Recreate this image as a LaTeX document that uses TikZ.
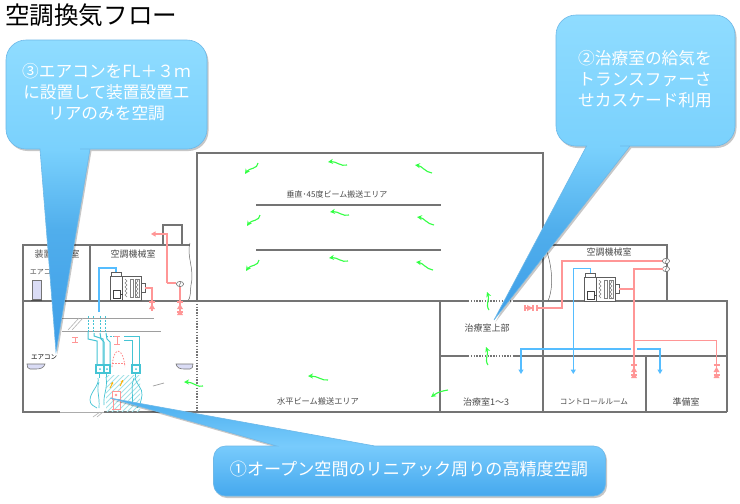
\documentclass[tikz,border=0pt]{standalone}
\usepackage{fontspec}
\setmainfont{Noto Sans CJK JP}
\usetikzlibrary{arrows.meta}
\definecolor{wallc}{HTML}{747474}
\definecolor{pinkc}{HTML}{FF9696}
\definecolor{bluec}{HTML}{55BDFF}
\definecolor{greenc}{HTML}{33FF44}
\definecolor{cyanc}{HTML}{45C4D4}
\definecolor{hatchc}{HTML}{A5E2E8}
\definecolor{lavc}{HTML}{DADCF5}
\definecolor{labelc}{HTML}{4A4A4A}
\definecolor{calledge}{HTML}{6DB8E8}
\definecolor{tipc}{RGB}{62,158,232}
\definecolor{tailc}{RGB}{80,174,236}
\definecolor{boxlow}{RGB}{122,209,253}
\definecolor{boxtop}{RGB}{143,220,255}
\definecolor{onelow}{RGB}{69,168,238}
\definecolor{onemid}{RGB}{120,203,252}
\definecolor{onetip}{RGB}{74,174,238}
\pgfdeclareverticalshading{cthree}{100bp}{color(0bp)=(tipc); color(25bp)=(tipc); color(44.6bp)=(tailc); color(57.5bp)=(boxlow); color(75bp)=(boxtop); color(100bp)=(boxtop)}
\pgfdeclareverticalshading{ctwo}{100bp}{color(0bp)=(tipc); color(25bp)=(tipc); color(39.8bp)=(tailc); color(53.5bp)=(boxlow); color(75bp)=(boxtop); color(100bp)=(boxtop)}
\pgfdeclareverticalshading{cone}{100bp}{color(0bp)=(onelow); color(25bp)=(onelow); color(50.5bp)=(onemid); color(75bp)=(onetip); color(100bp)=(onetip)}
\tikzset{
  x=1pt,y=-1pt,
  wall/.style={draw=wallc,line width=1.1pt},
  thinwall/.style={draw=wallc!85!black,line width=.8pt},
  dotwall/.style={draw=wallc,line width=1.1pt,dash pattern=on 1.3pt off 1.5pt},
  pinkline/.style={draw=pinkc,line width=1.2pt},
  blueline/.style={draw=bluec,line width=1.2pt},
  bluearrow/.style={blueline,-{Triangle[length=4.5pt,width=5pt]}},
  pinkarrow/.style={pinkline,-{Triangle[length=4.5pt,width=5pt]}},
  greenarrow/.style={draw=greenc,line width=1.1pt,-{Stealth[length=5pt,width=5pt,open]}},
  duct/.style={draw=cyanc,line width=1pt},
  ductdash/.style={draw=cyanc,line width=1pt,dash pattern=on 2pt off 1.5pt},
  equip/.style={draw=wallc!80!black,line width=.6pt,fill=white},
  ac/.style={draw=wallc,line width=.6pt,fill=lavc},
  lab/.style={text=labelc,font=\fontsize{#1}{#1}\selectfont,inner sep=0pt},
  calltext/.style={text=white,font=\fontsize{16.7}{21}\selectfont,align=center,inner sep=0pt},
}
% air handling unit: top left corner at #1,#2
\newcommand{\ahudraw}[2]{%
  \begin{scope}[shift={(#1,#2)}]
    \draw[equip] (1,-4) rectangle (11,0);
    \draw[equip] (0,0) rectangle (31,24);
    \draw[equip] (12,0) -- (12,24);
    \draw[equip] (31,7) rectangle (35,16);
    \draw[draw=black!75,line width=.7pt] (3,14) rectangle (10,22);
    \draw[draw=black!75,line width=.7pt] (10,18) -- (13,18);
    \draw[draw=black!50,line width=.6pt] (15,3) -- (17,5) -- (15,7) -- (17,9) -- (15,11) -- (17,13) -- (15,15) -- (17,17) -- (15,19) -- (17,21);
    \draw[draw=black!50,line width=.5pt] (20,3) rectangle (23,21);
    \draw[draw=black!50,line width=.6pt] (26,3) -- (28,5) -- (26,7) -- (28,9) -- (26,11) -- (28,13) -- (26,15) -- (28,17) -- (26,19) -- (28,21);
    \draw[draw=black!50,line width=.5pt] (25,3) rectangle (29,21);
  \end{scope}}
% damper symbols going down from #1,#2
\newcommand{\dampone}[2]{%
  \draw[pinkline] (#1-3,#2) -- (#1+3,#2) (#1,#2) -- (#1,#2+9);
  \fill[pinkc] (#1,#2+2) -- (#1-3,#2+7) -- (#1+3,#2+7) -- cycle;}
\newcommand{\damptwo}[2]{%
  \dampone{#1}{#2}
  \draw[pinkline] (#1-3,#2+10) -- (#1+3,#2+10);
  \fill[pinkc] (#1,#2+8) -- (#1-3,#2+13) -- (#1+3,#2+13) -- cycle;}
\newcommand{\valvedraw}[2]{%
  \draw[draw=wallc,line width=.6pt,fill=white] (#1,#2) ellipse (3.6 and 2.6);
  \draw[draw=wallc,line width=.5pt] (#1-1,#2+2) -- (#1+1,#2-2);}
% green hand-drawn arrows
\newcommand{\gleft}[2]{\draw[greenarrow] (#1+13,#2-11) .. controls (#1+13,#2-5) and (#1+4,#2-6) .. (#1,#2);}
\newcommand{\gmid}[2]{\draw[greenarrow] (#1+19,#2+3) .. controls (#1+13,#2+5) and (#1+8,#2-1) .. (#1,#2);}
\newcommand{\gright}[2]{\draw[greenarrow] (#1+17,#2+8) .. controls (#1+10,#2+7) and (#1+7,#2+1) .. (#1,#2);}
\newcommand{\gup}[2]{\draw[greenarrow] (#1+2,#2+18) .. controls (#1-2,#2+12) and (#1+3,#2+8) .. (#1,#2);}
\begin{document}
\begin{tikzpicture}
\useasboundingbox (0,0) rectangle (740,504);
\fill[white] (0,0) rectangle (740,504);
% title
\node[anchor=west,inner sep=0pt,text=black,font=\fontsize{24.6}{25}\selectfont] (title) at (5,15) {空調換気フロー};

% walls
\draw[wall] (23,301) -- (23,245) -- (190,245);
\draw[wall] (90,245) -- (90,301);
\draw[wall] (163,245) -- (163,225) -- (182,225) -- (182,245);
\draw[thinwall,line width=.5pt] (190,243) .. controls (186,255) and (195,270) .. (191,285) .. controls (190,292) and (191,297) .. (188,301);
\draw[wall] (197,301) -- (197,153) -- (543,153) -- (543,412);
\draw[wall] (256,205) -- (441,205);
\draw[wall] (256,250) -- (441,250);
\draw[wall] (23,301) -- (468,301);
\draw[dotwall] (468,301) -- (513,301);
\draw[wall] (513,301) -- (727,301) -- (727,412);
\draw[dotwall] (197,301) -- (197,412);
\draw[wall] (23,301) -- (23,412) -- (60,412);
\draw[draw=wallc!60,line width=1pt] (60,412) -- (104,412);
\draw[wall] (104,412) -- (727,412);
\draw[wall] (440,301) -- (440,412);
\draw[wall] (440,356) -- (468,356);
\draw[dotwall] (468,356) -- (513,356);
\draw[wall] (513,356) -- (727,356);
\draw[wall] (646,356) -- (646,412);
\draw[wall] (543,245) -- (667,245) -- (667,301);
\draw[thinwall,line width=.5pt] (547,252) .. controls (553,270) and (553,290) .. (548,301);

% room labels
\node[lab=9] (l1) at (57,254) {装置機械室};
\node[lab=9] (l2) at (133,254) {空調機械室};
\node[lab=9] (l3) at (609,252) {空調機械室};
\node[lab=8] (l4) at (337,194) {垂直･45度ビーム搬送エリア};
\node[lab=8.2] (l5) at (318,401) {水平ビーム搬送エリア};
\node[lab=9] (l6) at (487,328) {治療室上部};
\node[lab=9] (l7) at (486,402) {治療室1～3};
\node[lab=7.6] (l8) at (594,402) {コントロールルーム};
\node[lab=9] (l9) at (686,402) {準備室};
\node[lab=7] (l10) at (44,272) {エアコン};
\node[lab=6.5,text=black] (l11) at (44,357) {エアコン};

% air conditioners
\draw[ac] (32,280) rectangle (41,299);
\draw[draw=black!70,line width=1pt] (31,300) -- (42,300);
\draw[draw=wallc,line width=.8pt] (32,280) -- (41,280);
\draw[ac] (27,364) -- (45,364) .. controls (44,368) and (40,369) .. (36,369) -- (30,369) .. controls (28,369) and (27,367) .. (27,364) -- cycle;
\draw[ac] (176,364) -- (193,364) .. controls (193,367) and (192,369) .. (190,369) -- (184,369) .. controls (180,369) and (177,368) .. (176,364) -- cycle;

% hatched area round the linac
\begin{scope}
  \clip (106,375) -- (140,375) -- (140,411) -- (106,411) -- cycle;
  \foreach \k in {0,5,...,85}{
    \draw[hatchc,line width=.8pt] (60+\k,414) -- (60+\k+40,374);
  }
\end{scope}
% beams in the linac area
\draw[draw=wallc!70,line width=.9pt] (62,318) -- (154,318);
\draw[draw=wallc!70,line width=.9pt] (62,331) -- (161,331);
\draw[draw=wallc!55,line width=.6pt] (68,330) -- (79,318) (72,330) -- (83,318);
\draw[draw=wallc!55,line width=.6pt] (93,417) -- (100,412) (97,417) -- (103,412);
\draw[draw=wallc!70,line width=.7pt] (153,386) -- (164,383);
% ducts
\foreach \x in {88,93,100,105}{\draw[ductdash] (\x,316) -- (\x,332);}
\draw[duct] (88,332) -- (88,339) -- (97,341) -- (97,365);
\draw[duct] (94,333) -- (94,336) -- (103,339) -- (103,365);
\draw[duct] (100,333) -- (101,339) -- (104,342) -- (104,365);
\draw[duct] (106,333) -- (107,339) -- (110,342) -- (110,365);
\draw[ductdash] (106,336) -- (120,336);
\draw[duct] (124,336) -- (139,336) -- (139,365);
\draw[duct] (124,340) -- (132,340) -- (132,365);
\draw[duct,line width=1.1pt] (96,365) rectangle (104,373);
\draw[duct,line width=1.1pt] (104,365) rectangle (110,373);
\draw[duct,line width=1.1pt] (132,365) rectangle (140,373);
\foreach \x in {100,107,136}{\fill[cyanc] (\x,369) circle (1);}
\draw[duct,line width=.7pt] (98,378) .. controls (100,385) and (90,392) .. (90,400) .. controls (90,405) and (94,406) .. (97,408);
\draw[duct,line width=.7pt] (99,382) .. controls (96,390) and (100,396) .. (99,408);
\draw[duct,line width=.7pt] (106,377) .. controls (108,388) and (103,395) .. (104,405);
\draw[duct,line width=.7pt] (135,377) .. controls (136,385) and (143,388) .. (142,395) .. controls (141,402) and (140,405) .. (137,408);
\draw[duct,line width=.7pt] (134,378) .. controls (130,388) and (134,396) .. (132,406);
\draw[duct,line width=.7pt] (99,374) -- (99,378) (106,374) -- (106,377) (135,373) -- (135,377);
% linac symbols
\draw[draw=pinkc!90!red,line width=.8pt,dash pattern=on 1.5pt off 1.5pt] (112,367) .. controls (113,358) and (114,352) .. (118,351) .. controls (122,352) and (124,358) .. (125,367);
\draw[draw=pinkc!90!red,line width=.8pt,dash pattern=on 1.5pt off 1.5pt] (112,363) -- (125,363);
\draw[draw=pinkc,line width=.9pt] (72,337) -- (78,337) (75,337) -- (75,342) (72,342) -- (78,342);
\draw[draw=pinkc,line width=.9pt] (114,336) -- (120,336) (117,336) -- (117,344) (114,344) -- (120,344);
\draw[draw=pinkc,line width=.9pt,fill=white] (112,391) rectangle (120,399);
\fill[pinkc] (116,395) circle (1.4);
\draw[draw=pinkc,line width=.9pt] (113,399) -- (113,409) (120,399) -- (120,409) (112,409.5) -- (121,409.5);
\draw[draw=orange!60!yellow,line width=.9pt,-{Stealth[length=2.5pt,width=3pt]}] (110,388) -- (113,382);
\draw[draw=orange!60!yellow,line width=.9pt,-{Stealth[length=2.5pt,width=3pt]}] (120,386) -- (123,380);

% left machine room
\ahudraw{110}{276}
\draw[blueline] (99,312) -- (99,268) -- (116,268) -- (116,272);
\draw[pinkline] (145,288) -- (152,288) -- (152,302);
\dampone{152}{302}
\draw[pinkarrow] (167,283) -- (167,234) -- (151,234);
\draw[pinkline] (167,283) -- (176,283);
\valvedraw{180}{284}
\draw[pinkline] (180,287) -- (180,302);
\damptwo{180}{302}

% right machine room
\ahudraw{584}{277}
\draw[pinkline] (663,261) -- (562,261) -- (562,308) -- (537,308);
\draw[pinkline] (537,305) -- (537,311) (533,305) -- (533,311);
\fill[pinkc] (533,308) -- (527,305) -- (527,311) -- cycle;
\draw[pinkline] (525,305) -- (525,311) (525,308) -- (533,308);
\valvedraw{666}{261}
\valvedraw{666}{269}
\draw[pinkline] (663,269) -- (634,269) -- (634,365);
\draw[pinkline] (619,289) -- (634,289);
\draw[pinkline] (634,340.5) -- (716.5,340.5) -- (716.5,365);
\damptwo{634}{365}
\damptwo{716.5}{365}
\draw[bluearrow] (590.7,273) -- (590.7,268.5) -- (573.3,268.5) -- (573.3,374);
\draw[bluearrow] (631,349) -- (521,349) -- (521,374);
\draw[bluearrow] (637,349) -- (660,349) -- (660,374);

% green air arrows
\gleft{245}{174}
\gleft{247}{226}
\gleft{246}{271}
\gmid{328}{162}
\gmid{330}{212}
\gmid{329}{258}
\gright{415}{165}
\gright{417}{217}
\gright{416}{262}
\gup{487}{292}
\gup{486}{347}
\draw[greenarrow] (203,386) .. controls (198,388) and (193,382) .. (184,382);
\draw[greenarrow] (328,380) .. controls (322,381) and (318,376) .. (308,376);
\draw[greenarrow] (448,390) .. controls (442,391) and (438,392) .. (431,397);

% callouts
\newcommand{\cthreepath}{(40,149) -- (30,149) [rounded corners=20pt] -- (6,149) -- (6,40) -- (207,40) -- (207,149) -- (100,149) [sharp corners] -- (90,149) -- (56,352) -- cycle}
\newcommand{\ctwopath}{(586.6,146) -- (580,146) [rounded corners=20pt] -- (556,146) -- (556,15) -- (735,15) -- (735,146) -- (640,146) [sharp corners] -- (630,146) -- (494,320) -- cycle}
\newcommand{\conepath}{(277,446) -- (265,446) [rounded corners=12pt] -- (213.5,446) -- (213.5,496) -- (605.5,496) -- (605.5,446) -- (385,446) [sharp corners] -- (375,446) -- (110,398) -- cycle}
\begin{scope}[shift={(1.5,2)}]
  \fill[black,opacity=.22] \cthreepath;
  \fill[black,opacity=.22] \ctwopath;
  \fill[black,opacity=.22] \conepath;
\end{scope}
\shade[shading=cthree,shading angle=0] \cthreepath;
\draw[calledge,line width=.6pt] \cthreepath;
\shade[shading=ctwo,shading angle=0] \ctwopath;
\draw[calledge,line width=.6pt] \ctwopath;
\shade[shading=cone,shading angle=0] \conepath;
\draw[calledge,line width=.6pt] \conepath;
\node[calltext] (c3) at (106.5,92.5) {③エアコンをFL＋３ｍ\\に設置して装置設置エ\\リアのみを空調};
\node[calltext] (c2) at (645,79) {②治療室の給気を\\トランスファーさ\\せカスケード利用};
\node[calltext,font=\fontsize{17.1}{20}\selectfont] (c1) at (409,469) {①オープン空間のリニアック周りの高精度空調};
\end{tikzpicture}
\end{document}
